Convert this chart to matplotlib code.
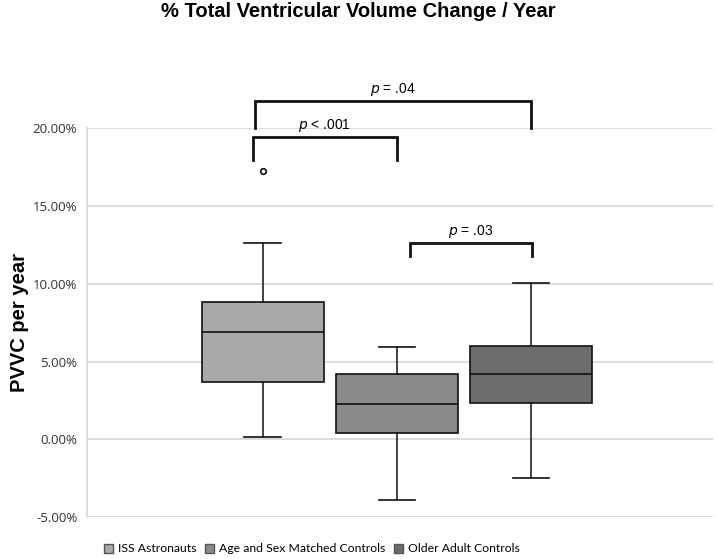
import matplotlib
matplotlib.use("Agg")
import matplotlib.pyplot as plt
from matplotlib.patches import Patch
from matplotlib.ticker import FuncFormatter

# ---- data (values in %) ----
groups = ["ISS Astronauts", "Age and Sex Matched Controls", "Older Adult Controls"]
medians = [6.92, 2.25, 4.18]
q1 = [3.69, 0.39, 2.36]
q3 = [8.85, 4.22, 6.00]
whisker_low = [0.15, -3.89, -2.51]
whisker_high = [12.61, 5.92, 10.08]
outliers = [[17.27], [], []]
box_colors = ["#a9a9a9", "#8a8a8a", "#6c6c6c"]

yticks = [-5, 0, 5, 10, 15, 20]

# significance brackets
bracket_x_left = [-0.06, -0.07, 1.10]
bracket_x_right = [2.0, 1.0, 2.01]
bracket_y_top = [21.77, 19.45, 12.61]
bracket_y_bottom = [20.05, 17.97, 11.80]
bracket_labels = ["= .04", "< .001", "= .03"]

fig = plt.figure(figsize=(7.16, 5.59), dpi=100)
ax = fig.add_axes([0.1215, 0.0751, 0.8743, 0.6954])

stats = []
for i, g in enumerate(groups):
    stats.append(dict(label=g, med=medians[i], q1=q1[i], q3=q3[i],
                      whislo=whisker_low[i], whishi=whisker_high[i],
                      fliers=outliers[i]))

positions = list(range(len(groups)))
bp = ax.bxp(stats, positions=positions, widths=0.91, patch_artist=True,
            capwidths=0.27,
            boxprops=dict(edgecolor="#111111", linewidth=1.2),
            medianprops=dict(color="#111111", linewidth=1.2),
            whiskerprops=dict(color="#111111", linewidth=1.1),
            capprops=dict(color="#111111", linewidth=1.2),
            flierprops=dict(marker="o", markersize=4, markerfacecolor="white",
                            markeredgecolor="#111111", markeredgewidth=1.2),
            zorder=3)
for patch, c in zip(bp["boxes"], box_colors):
    patch.set_facecolor(c)

ax.set_xlim(-1.31, 3.36)
ax.set_ylim(-5, 20)
ax.set_yticks(yticks)
ax.yaxis.set_major_formatter(FuncFormatter(lambda v, p: f"{v:.2f}%"))
ax.set_xticks([])
ax.yaxis.grid(True, color="#d9d9d9", linewidth=1.3, zorder=0)
ax.set_axisbelow(True)
for s in ["top", "right", "bottom"]:
    ax.spines[s].set_visible(False)
ax.spines["left"].set_color("#d9d9d9")
ax.spines["left"].set_linewidth(1.3)
ax.tick_params(axis="y", length=0, pad=7, labelsize=9.5, labelcolor="#333333")
for lab in ax.get_yticklabels():
    lab.set_family("Open Sans")

ax.set_ylabel("PVVC per year", fontsize=14.5, fontweight="bold",
              family="Liberation Sans")
ax.yaxis.set_label_coords(-0.093, 0.5)

# brackets
for xl, xr, yt, yb, lab in zip(bracket_x_left, bracket_x_right, bracket_y_top,
                               bracket_y_bottom, bracket_labels):
    ax.plot([xl, xl, xr, xr], [yb, yt, yt, yb], color="#111111", linewidth=2.0,
            clip_on=False, solid_joinstyle="miter", zorder=4)
    ax.text((xl + xr) / 2, yt + 0.2, r"$\it{p}$ " + lab, ha="center", va="bottom",
            fontsize=10, family="Liberation Sans", clip_on=False)

fig.suptitle("% Total Ventricular Volume Change / Year", x=0.5, y=0.997,
             fontsize=14.5, fontweight="bold", family="Liberation Sans")

handles = [Patch(facecolor=c, edgecolor="#555555", linewidth=1.0) for c in box_colors]
fig.legend(handles, groups, loc="center left", bbox_to_anchor=(0.137, 0.018),
           ncol=3, frameon=False, handlelength=0.75, handleheight=0.75,
           handletextpad=0.4, columnspacing=0.7, borderpad=0,
           prop=dict(family="Lato", size=8.8))

fig.savefig("out.png", dpi=100)
